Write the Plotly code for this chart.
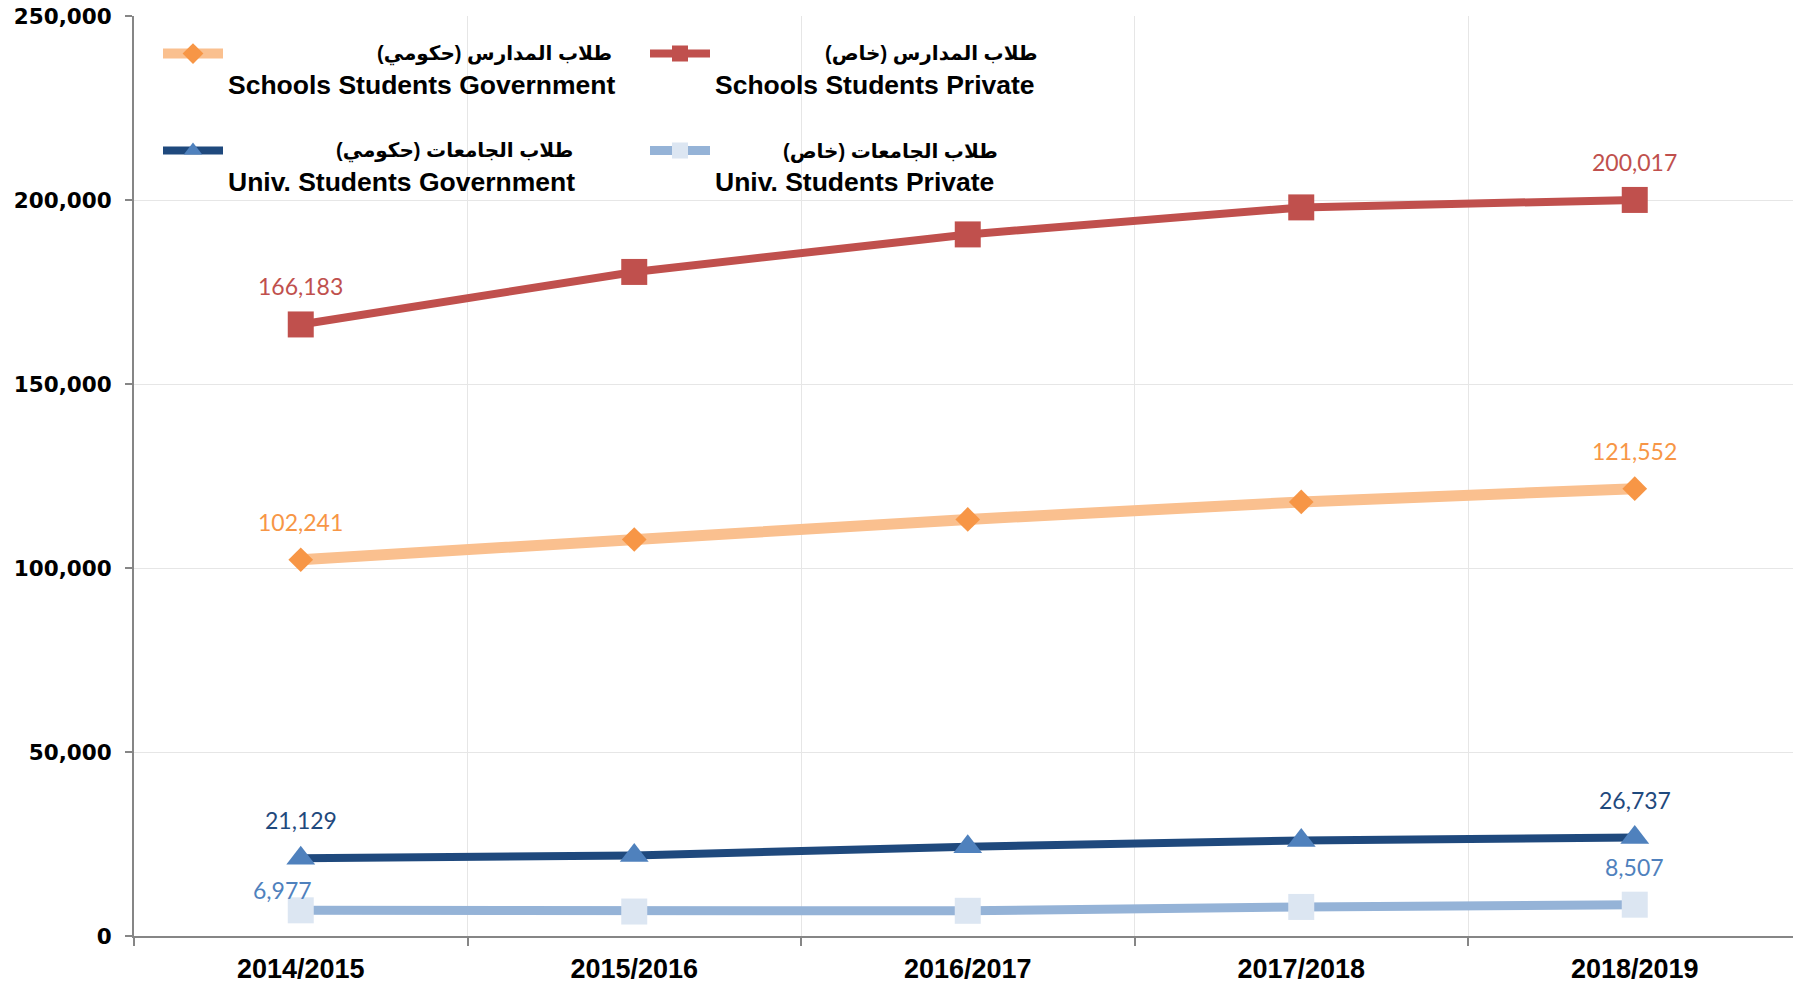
import plotly.graph_objects as go

years = ["2014/2015", "2015/2016", "2016/2017", "2017/2018", "2018/2019"]
schools_gov = [102241, 107750, 113200, 117950, 121552]
schools_priv = [166183, 180450, 190650, 197990, 200017]
univ_gov = [21129, 21900, 24250, 25950, 26737]
univ_priv = [6977, 6650, 6850, 7900, 8507]

names_en = ["Schools Students Government", "Schools Students Private",
            "Univ. Students Government", "Univ. Students Private"]
names_ar = ["طلاب المدارس (حكومي)", "طلاب المدارس (خاص)",
            "طلاب الجامعات (حكومي)", "طلاب الجامعات (خاص)"]
y_ticks = [0, 50000, 100000, 150000, 200000, 250000]

W, H = 1793, 984
L, R, T, B = 134, 0, 16, 48

fig = go.Figure()

series = [
    (schools_gov, names_en[0], "legend", dict(color="#FAC08F", width=11),
     dict(symbol="diamond", size=19, color="#F79646"), "#F79646"),
    (schools_priv, names_en[1], "legend", dict(color="#C0504D", width=8),
     dict(symbol="square", size=26, color="#C0504D"), "#C0504D"),
    (univ_gov, names_en[2], "legend2", dict(color="#1F497D", width=8),
     dict(symbol="triangle-up", size=25, color="#4F81BD"), "#1F497D"),
    (univ_priv, names_en[3], "legend2", dict(color="#95B3D7", width=9),
     dict(symbol="square", size=26, color="#DCE6F2"), "#4F81BD"),
]

annotations = []
for vals, name, leg, line, marker, lblcol in series:
    fig.add_trace(go.Scatter(
        x=years, y=vals, mode="lines+markers",
        name="\u00a0<br><span style='font-size:26.5px'><b>" + name + "</b></span>",
        legend=leg, line=line, marker=marker, cliponaxis=False,
    ))
    for i in (0, len(vals) - 1):
        xs, ys = 0, 38
        if vals is univ_priv and i == 0:
            xs, ys = -18, 20
        annotations.append(dict(
            x=years[i], y=vals[i], xref="x", yref="y", text=f"{vals[i]:,}",
            showarrow=False, xshift=xs, yshift=ys,
            font=dict(family="Lato, Open Sans", size=23, color=lblcol),
        ))

# helpers converting page pixel positions to paper fractions
def px_x(px):
    return (px - L) / (W - L - R)

def px_y(py):
    return (H - B - py) / (H - B - T)

# Arabic first lines of the legend entries (right aligned)
ar_pos = [(614, 54), (1040, 54), (575, 151), (1000, 151)]
for txt, (ax, ay) in zip(names_ar, ar_pos):
    annotations.append(dict(
        x=px_x(ax), y=px_y(ay), xref="paper", yref="paper", text="<b>" + txt + "</b>",
        showarrow=False, xanchor="right", yanchor="middle",
        font=dict(family="Liberation Sans, DejaVu Sans", size=20, color="#000000"),
    ))

legend_common = dict(
    orientation="h", xref="paper", yref="paper", xanchor="left", yanchor="top",
    bgcolor="rgba(0,0,0,0)", borderwidth=0, itemwidth=60, valign="top",
    entrywidth=412, entrywidthmode="pixels",
    font=dict(family="Liberation Sans, Arial", size=24, color="#000000"),
    itemclick=False, itemdoubleclick=False,
)

fig.update_layout(
    width=W, height=H,
    margin=dict(l=L, r=R, t=T, b=B, pad=0, autoexpand=False),
    paper_bgcolor="white", plot_bgcolor="white",
    showlegend=True,
    legend=dict(x=px_x(158), y=px_y(31.5), **legend_common),
    legend2=dict(x=px_x(158), y=px_y(128.5), **legend_common),
    annotations=annotations,
    xaxis=dict(
        type="category", range=[-0.5, 4.4745], tickson="boundaries",
        ticks="outside", ticklen=8, tickwidth=2, tickcolor="#868686",
        showline=True, linecolor="#868686", linewidth=2,
        showgrid=True, gridcolor="#E6E6E6", gridwidth=1,
        tickfont=dict(family="Liberation Sans, Arial", size=27, color="#000000", weight="bold"),
        ticklabelstandoff=8, zeroline=False, automargin=False,
        ticklabeloverflow="allow",
    ),
    yaxis=dict(
        range=[0, 250000], tickvals=y_ticks, ticktext=[f"{v:,}" for v in y_ticks],
        ticks="outside", ticklen=7, tickwidth=2, tickcolor="#868686",
        showline=True, linecolor="#868686", linewidth=2,
        showgrid=True, gridcolor="#E6E6E6", gridwidth=1, zeroline=False,
        tickfont=dict(family="DejaVu Sans", size=21.5, color="#000000", weight="bold"),
        ticklabelstandoff=9, automargin=False, ticklabeloverflow="allow",
    ),
)

fig.write_html(
    "out.html",
    config={"displayModeBar": False},
    post_script="document.body.style.margin='0';document.body.style.overflow='hidden';",
)
